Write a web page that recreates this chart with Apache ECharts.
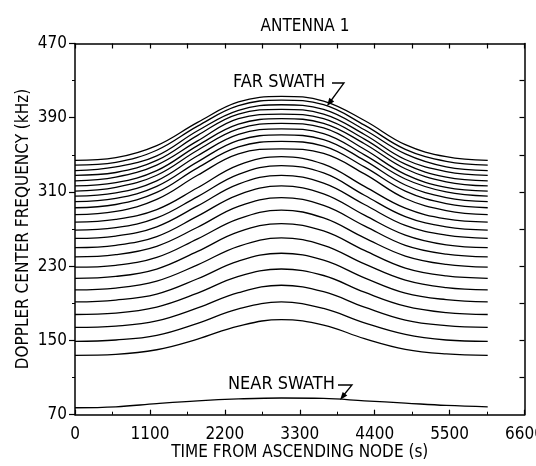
<!DOCTYPE html>
<html>
<head>
<meta charset="utf-8">
<script src="https://cdn.jsdelivr.net/npm/echarts@6/dist/echarts.min.js"></script>
<style>
  html, body { margin: 0; padding: 0; background: #fff; }
  #chart { width: 536px; height: 466px; }
</style>
</head>
<body>
<div id="chart"></div>
<script>
// time from ascending node (s)
const times = [0, 600, 1200, 1800, 2400, 3030, 3650, 4250, 4850, 5450, 6060];

// far swath family, top curve first (kHz)
const farSwathCurves = [
  [344, 347, 360, 385, 407, 413, 408, 387, 361, 348, 344],
  [339, 342, 355, 381, 403, 409, 404, 382, 356, 343, 339],
  [333, 337, 349, 376, 398, 404, 399, 377, 351, 337, 333],
  [328, 331, 344, 371, 394, 399, 394, 372, 345, 332, 328],
  [322, 326, 339, 365, 389, 394, 389, 367, 340, 326, 322],
  [316.5, 320, 333, 360, 383, 389, 384, 362, 335, 321, 316.5],
  [311, 315, 328, 355, 378, 384, 379, 356, 329, 315, 311],
  [305.5, 309, 322, 349, 372, 378, 373, 350, 324, 310, 305.5],
  [299.5, 303, 316, 342.5, 365.5, 371.5, 366.5, 344, 317.5, 304, 299.5],
  [293, 296.5, 309.5, 336, 358.5, 364.5, 359.5, 337, 311, 297.5, 293],
  [285.5, 289, 302, 328, 351, 356.5, 351.5, 329.5, 303, 290, 285.5],
  [277.5, 280.5, 291, 314.5, 339, 348, 340, 316, 292.5, 281, 277.5],
  [269, 271.5, 282, 305, 329, 338.5, 330.5, 306.5, 283.5, 272.5, 269],
  [260, 262.5, 272.5, 295, 318.5, 328, 319.5, 296.5, 274, 263.5, 260],
  [250, 252.5, 262, 284, 307, 316.5, 308, 285, 263.5, 253, 250],
  [240, 242.5, 251.5, 272, 294.5, 304, 295.5, 273.5, 252.5, 243, 240],
  [229, 231, 239.5, 259.5, 281, 290.5, 282, 260.5, 241, 232, 229],
  [217, 219, 227, 246, 267, 276, 268, 247, 228, 219.5, 217],
  [204.5, 206.5, 214, 231.5, 251.5, 260.5, 252.5, 232.5, 215, 207, 204.5],
  [191.5, 193.5, 200, 216.5, 235.5, 244, 236.5, 217.5, 201, 194, 191.5],
  [178, 179.5, 186, 201, 219, 227, 220, 202, 187, 180, 178],
  [164, 165.5, 171, 185, 201.5, 209.5, 202.5, 186, 172, 166, 164],
  [149, 150.5, 155.5, 168.5, 184, 191.5, 184.5, 169, 156.5, 150.5, 149],
  [134, 135, 140, 151.5, 165.5, 172.5, 166.5, 152, 140.5, 135.5, 134]
];

const nearSwath = [77.5, 78.5, 82, 85, 87, 88, 87.5, 85, 82.5, 80, 78.5];

const yMajorTicks = [70, 150, 230, 310, 390, 470];
const yMinorTicks = [110, 190, 270, 350, 430];
const yRightTicks = [110, 150, 190, 230, 270, 310, 350, 390, 430];

const FONT = "'Liberation Sans Narrow', 'DejaVu Sans Condensed', sans-serif";

let myChart = echarts.init(document.getElementById("chart"));

function lineSeries(values) {
  return {
    type: "line",
    data: times.map((t, i) => [t, values[i]]),
    smooth: 0.4,
    symbol: "none",
    silent: true,
    lineStyle: { color: "#000", width: 1.3 }
  };
}

let series = farSwathCurves.map(c => lineSeries(c));
series.push(lineSeries(nearSwath));

const axisLine = { show: true, lineStyle: { color: "#000", width: 1.5 } };

let option = {
  animation: false,
  backgroundColor: "#fff",
  textStyle: { fontFamily: FONT, color: "#000" },
  title: {
    text: "ANTENNA 1",
    left: 300,
    top: 13,
    textAlign: "center",
    textStyle: { fontFamily: FONT, fontSize: 17, fontWeight: "normal", color: "#000" }
  },
  grid: { left: 75, right: 11.5, top: 43.5, bottom: 51.3, outerBoundsMode: "none", containLabel: false },
  xAxis: [
    {
      type: "value",
      position: "bottom",
      min: 0,
      max: 6600,
      interval: 1100,
      name: "TIME FROM ASCENDING NODE (s)",
      nameLocation: "middle",
      nameGap: 29.5,
      nameMoveOverlap: false,
      nameTextStyle: { fontFamily: FONT, fontSize: 17, color: "#000" },
      axisLine: axisLine,
      axisTick: { show: true, inside: true, length: 5, lineStyle: { color: "#000", width: 1.2 } },
      minorTick: { show: true, splitNumber: 2, length: 3, lineStyle: { color: "#000", width: 1 } },
      axisLabel: { fontFamily: FONT, fontSize: 17, color: "#000", margin: 11, formatter: v => String(v) },
      splitLine: { show: false }
    },
    {
      type: "value",
      position: "top",
      min: 0,
      max: 6600,
      interval: 550,
      axisLine: axisLine,
      axisTick: { show: true, inside: true, length: 5, lineStyle: { color: "#000", width: 1.2 } },
      axisLabel: { show: false },
      splitLine: { show: false }
    }
  ],
  yAxis: [
    {
      type: "value",
      position: "left",
      min: 70,
      max: 470,
      name: "DOPPLER CENTER FREQUENCY (kHz)",
      nameLocation: "middle",
      nameGap: 43,
      nameMoveOverlap: false,
      nameRotate: 90,
      nameTextStyle: { fontFamily: FONT, fontSize: 17, color: "#000" },
      axisLine: axisLine,
      axisTick: { show: true, inside: false, length: 6, customValues: yMajorTicks, lineStyle: { color: "#000", width: 1.2 } },
      axisLabel: { fontFamily: FONT, fontSize: 17, color: "#000", margin: 8, customValues: yMajorTicks },
      splitLine: { show: false }
    },
    {
      type: "value",
      position: "left",
      min: 70,
      max: 470,
      axisLine: { show: false },
      axisTick: { show: true, inside: false, length: 3, customValues: yMinorTicks, lineStyle: { color: "#000", width: 1 } },
      axisLabel: { show: false },
      splitLine: { show: false }
    },
    {
      type: "value",
      position: "right",
      min: 70,
      max: 470,
      axisLine: axisLine,
      axisTick: { show: true, inside: true, length: 5, customValues: yRightTicks, lineStyle: { color: "#000", width: 1.2 } },
      axisLabel: { show: false },
      splitLine: { show: false }
    }
  ],
  graphic: [
    // FAR SWATH label and arrow
    { type: "text", left: 233, top: 73, style: { text: "FAR SWATH", font: "18px " + FONT, fill: "#000" } },
    { type: "polyline", shape: { points: [[332, 83], [344, 83], [330, 102]] }, style: { stroke: "#000", lineWidth: 1.3, fill: null } },
    { type: "polygon", shape: { points: [[327, 106], [334.2, 101.4], [329.3, 97.8]] }, style: { fill: "#000" } },
    // NEAR SWATH label and arrow
    { type: "text", left: 228, top: 375, style: { text: "NEAR SWATH", font: "18px " + FONT, fill: "#000" } },
    { type: "polyline", shape: { points: [[338, 385], [352, 385], [343, 396]] }, style: { stroke: "#000", lineWidth: 1.3, fill: null } },
    { type: "polygon", shape: { points: [[340, 400], [347.3, 395.6], [342.7, 391.9]] }, style: { fill: "#000" } }
  ],
  series: series
};

myChart.setOption(option);
window.addEventListener("resize", function() {
  myChart.resize();
});
</script>
</body>
</html>
